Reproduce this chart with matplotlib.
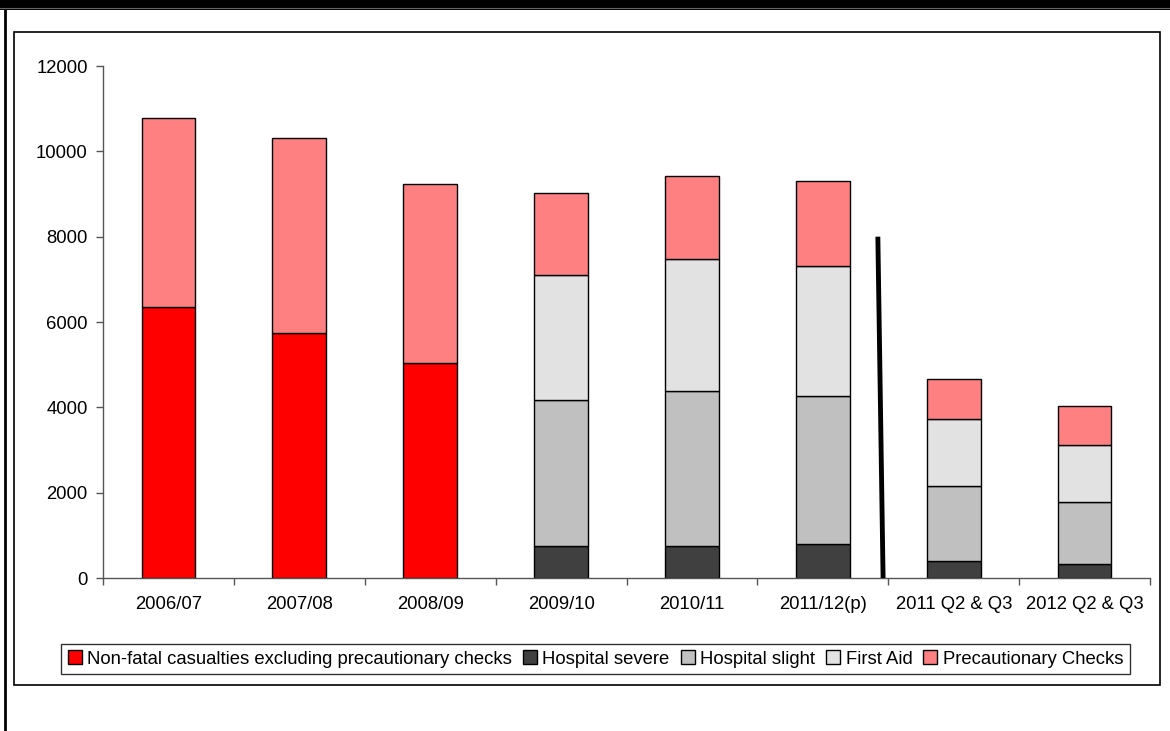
import matplotlib.pyplot as plt
import numpy as np
from matplotlib.patches import Rectangle
from matplotlib.lines import Line2D

plt.rcParams['font.family'] = ['Liberation Sans', 'DejaVu Sans']

periods = ['2006/07', '2007/08', '2008/09', '2009/10', '2010/11',
           '2011/12(p)', '2011 Q2 & Q3', '2012 Q2 & Q3']

# casualty counts by period (stacked bottom to top)
non_fatal = [6360, 5750, 5030, 0, 0, 0, 0, 0]
hospital_severe = [0, 0, 0, 755, 755, 795, 390, 335]
hospital_slight = [0, 0, 0, 3415, 3625, 3475, 1770, 1445]
first_aid = [0, 0, 0, 2940, 3090, 3050, 1570, 1340]
precautionary = [4420, 4560, 4200, 1910, 1950, 1980, 930, 910]

# break marker between annual and half-year figures
break_x = [5.42, 5.46]
break_y = [8000, 0]

series = [
    ('Non-fatal casualties excluding precautionary checks', non_fatal, '#ff0000'),
    ('Hospital severe', hospital_severe, '#404040'),
    ('Hospital slight', hospital_slight, '#c0c0c0'),
    ('First Aid', first_aid, '#e2e2e2'),
    ('Precautionary Checks', precautionary, '#ff8080'),
]

fig = plt.figure(figsize=(11.7, 7.31), dpi=100)
ax = fig.add_axes([0.088, 0.2093, 0.895, 0.7004])

x = np.arange(len(periods))
bottom = np.zeros(len(periods))
handles = []
for label, vals, col in series:
    vals = np.array(vals, dtype=float)
    mask = vals > 0
    ax.bar(x[mask], vals[mask], width=0.41, bottom=bottom[mask], color=col,
           edgecolor='black', linewidth=1.0, zorder=2)
    bottom += vals
    handles.append(Rectangle((0, 0), 1, 1, facecolor=col, edgecolor='black', linewidth=1.0))

ax.plot(break_x, break_y, color='black', linewidth=3.5, solid_capstyle='butt', zorder=3)

ax.set_xlim(-0.5, len(periods) - 0.5)
ax.set_ylim(0, 12000)
ax.set_yticks(np.arange(0, 12001, 2000))
ax.set_xticks(x)
ax.set_xticklabels(periods)
ax.set_xticks(np.arange(-0.5, len(periods)), minor=True)
ax.tick_params(axis='x', which='major', length=0, pad=13, labelsize=13.3)
ax.tick_params(axis='x', which='minor', length=5, width=1, color='#555555')
ax.tick_params(axis='y', length=5, width=1, pad=6, labelsize=13.3, color='#555555')

for side in ['top', 'right']:
    ax.spines[side].set_visible(False)
for side in ['left', 'bottom']:
    ax.spines[side].set_color('#555555')
    ax.spines[side].set_linewidth(1)

leg = fig.legend(handles, [s[0] for s in series], loc='center',
                 bbox_to_anchor=(0.509, 0.0985), ncol=5, fontsize=13.3,
                 frameon=True, fancybox=False, edgecolor='black',
                 handlelength=0.75, handleheight=0.75, handletextpad=0.3,
                 columnspacing=0.6, borderpad=0.35, borderaxespad=0)
leg.get_frame().set_linewidth(1)

# outer chart frame and page border
fig.add_artist(Rectangle((0.012, 0.0629), 0.9795, 0.893, transform=fig.transFigure,
                         fill=False, edgecolor='black', linewidth=1.2))
fig.add_artist(Rectangle((0, 0.986), 1, 0.014, transform=fig.transFigure,
                         facecolor='black', edgecolor='none'))
fig.add_artist(Line2D([0, 1], [0.9888, 0.9888], transform=fig.transFigure,
                      color='#666666', linewidth=0.8))
fig.add_artist(Line2D([0.0043, 0.0043], [0, 0.986], transform=fig.transFigure,
                      color='black', linewidth=2))

fig.savefig('out.png', dpi=100)
